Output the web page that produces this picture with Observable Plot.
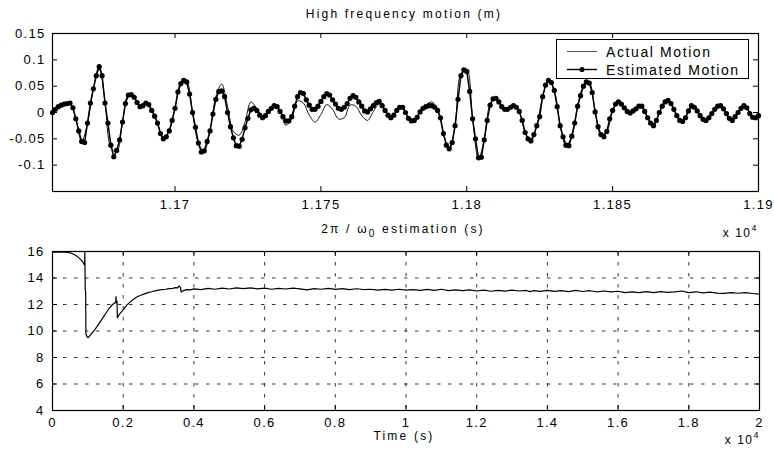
<!DOCTYPE html>
<html><head><meta charset="utf-8">
<script src="https://cdn.jsdelivr.net/npm/d3@7"></script>
<script src="https://cdn.jsdelivr.net/npm/@observablehq/plot@0.6"></script>
<style>
body{margin:0;background:#fff;}
#wrap{position:relative;width:774px;height:456px;font-family:"Liberation Sans",Arial,Helvetica,sans-serif;color:#000;overflow:hidden;}
#wrap svg{position:absolute;left:0;}
.lbl{position:absolute;white-space:nowrap;line-height:14px;}
.sup{position:relative;top:-6px;font-size:9px;}
.sub{position:relative;top:4px;font-size:10px;}
</style></head>
<body><div id="wrap"></div>
<script>
// ---------- top panel: high frequency motion (m) ----------
const motionStart = 11658;   // time of first sample (s)
const estimatedStep = 1;     // s between estimated samples
const actualStep = 2;        // s between actual samples
const estimatedMotion = [
 0.000, 0.006, 0.011, 0.014, 0.016, 0.017, 0.018, 0.009,-0.012,-0.035,
-0.055,-0.057,-0.020, 0.018, 0.045, 0.070, 0.087, 0.070, 0.018,-0.020,
-0.062,-0.084,-0.072,-0.052,-0.018, 0.017, 0.033, 0.034, 0.029, 0.019,
 0.011, 0.013, 0.018, 0.015, 0.004,-0.007,-0.020,-0.040,-0.050,-0.046,
-0.035,-0.015, 0.008, 0.039, 0.055, 0.061, 0.058, 0.035, 0.000,-0.028,
-0.058,-0.075,-0.073,-0.055,-0.035,-0.003, 0.025, 0.040, 0.041, 0.030,
 0.000,-0.027,-0.048,-0.063,-0.064,-0.051,-0.029,-0.011, 0.005, 0.008,
 0.004,-0.005,-0.010,-0.006, 0.002, 0.008, 0.013, 0.011, 0.002,-0.008,
-0.016,-0.016,-0.008, 0.012, 0.030, 0.038, 0.036, 0.024, 0.014, 0.006,
 0.006, 0.012, 0.021, 0.030, 0.036, 0.033, 0.024, 0.016, 0.008, 0.006,
 0.010, 0.017, 0.027, 0.032, 0.029, 0.020, 0.012, 0.003, 0.001, 0.007,
 0.013, 0.019, 0.021, 0.013, 0.004,-0.005,-0.010,-0.005, 0.004, 0.010,
 0.010, 0.000,-0.011,-0.016,-0.015,-0.009, 0.001, 0.008, 0.011, 0.013,
 0.013, 0.010, 0.004,-0.010,-0.040,-0.062,-0.069,-0.057,-0.025, 0.025,
 0.070, 0.081, 0.078, 0.040,-0.012,-0.050,-0.086,-0.085,-0.052,-0.015,
 0.014, 0.026, 0.027, 0.020, 0.011, 0.006, 0.006, 0.010, 0.013, 0.010,
 0.002,-0.015,-0.038,-0.050,-0.054,-0.042,-0.025,-0.008, 0.030, 0.052,
 0.061, 0.057, 0.042, 0.011,-0.025,-0.046,-0.062,-0.063,-0.045,-0.020,
 0.012, 0.032, 0.050, 0.058, 0.056, 0.038, 0.001,-0.027,-0.042,-0.046,
-0.036,-0.012, 0.004, 0.016, 0.020, 0.016, 0.009, 0.002,-0.001, 0.003,
 0.007, 0.012, 0.012, 0.002,-0.010,-0.020,-0.025,-0.015, 0.000, 0.012,
 0.020, 0.023, 0.017, 0.006,-0.006,-0.015,-0.017,-0.010, 0.003, 0.013,
 0.010, 0.003,-0.006,-0.013,-0.015,-0.010,-0.002, 0.006, 0.012, 0.013,
 0.007,-0.002,-0.011,-0.015,-0.008, 0.000, 0.008, 0.013, 0.009,-0.002,
-0.009,-0.010,-0.006
];
const actualMotion = [
 0.000, 0.011, 0.016, 0.018,-0.012,-0.055,-0.020, 0.045, 0.088, 0.020,
-0.066,-0.075,-0.018, 0.034, 0.029, 0.012, 0.019, 0.004,-0.020,-0.050,
-0.035, 0.008, 0.056, 0.058, 0.000,-0.058,-0.073,-0.033, 0.030, 0.054,
 0.012,-0.036,-0.043,-0.018, 0.020, 0.008,-0.006, 0.004, 0.012, 0.002,
-0.024,-0.012, 0.022, 0.018,-0.005,-0.018,-0.004, 0.015, 0.006,-0.012,
-0.010, 0.014, 0.012,-0.006,-0.015, 0.002, 0.016, 0.004,-0.010, 0.004,
 0.010,-0.011,-0.015, 0.001, 0.014, 0.020, 0.006,-0.040,-0.070,-0.025,
 0.074, 0.082,-0.012,-0.088,-0.050, 0.016, 0.028, 0.012, 0.008, 0.015,
 0.002,-0.038,-0.054,-0.025, 0.030, 0.061, 0.042,-0.025,-0.062,-0.045,
 0.012, 0.050, 0.056, 0.001,-0.042,-0.036, 0.004, 0.020, 0.009,-0.001,
 0.007, 0.012,-0.010,-0.025, 0.000, 0.020, 0.017,-0.006,-0.017, 0.003,
 0.010,-0.006,-0.015,-0.002, 0.012, 0.007,-0.011,-0.008, 0.008, 0.009,
-0.009,-0.006
];
const topXDomain = [11658, 11900];
const topXTicks = [11700, 11750, 11800, 11850, 11900];
const topXLabels = ["1.17", "1.175", "1.18", "1.185", "1.19"];
const topYDomain = [-0.15, 0.15];
const topYTicks = [0.15, 0.1, 0.05, 0, -0.05, -0.1];
const topYLabels = ["0.15", "0.1", "0.05", "0", "-0.05", "-0.1"];
const legendLabels = ["Actual Motion", "Estimated Motion"];

// ---------- bottom panel: 2π/ω0 estimation (s) ----------
const periodTime = [
 0,300,450,550,650,750,820,870,910,915,925,938,945,985,1005,1050,1100,1200,1300,1400,
 1500,1600,1700,1760,1790,1795,1805,1825,1835,1860,1900,2000,2100,2200,2300,2400,2500,2600,2700,2800,
 2900,3000,3100,3200,3300,3400,3480,3540,3580,3620,3640,3700,3800,3900,
 4000,4200,4400,4600,4800,5000,5200,5400,5600,5800,6000,6200,6400,6600,6800,7000,7200,7400,7600,7800,
 8000,8200,8400,8600,8800,9000,9200,9400,9600,9800,10000,10200,10400,10600,10800,11000,11200,11400,11600,11800,
 12000,12200,12400,12600,12800,13000,13200,13400,13500,13600,13800,14000,14200,14400,14600,14800,15000,15200,15400,15600,
 15800,16000,16200,16400,16600,16800,17000,17200,17400,17600,17800,18000,18200,18400,18600,18800,19000,19200,19400,19600,
 19800,20000
];
const periodValue = [
 15.95,15.95,15.93,15.85,15.72,15.52,15.33,15.15,14.95,16.0,13.1,13.0,9.75,9.55,9.5,9.62,9.78,10.1,10.5,10.9,
 11.3,11.7,12.0,12.12,12.2,12.6,12.1,12.25,11.0,11.1,11.3,11.6,11.95,12.2,12.42,12.58,12.7,12.8,12.9,12.96,
 13.03,13.08,13.13,13.15,13.2,13.22,13.27,13.25,13.4,13.28,12.95,13.05,13.12,13.1,
 13.18,13.12,13.22,13.15,13.24,13.17,13.25,13.2,13.26,13.18,13.23,13.15,13.22,13.17,13.24,13.18,13.1,13.2,13.15,13.22,
 13.14,13.2,13.12,13.19,13.13,13.15,13.08,13.14,13.09,13.15,13.08,13.12,13.06,13.14,13.07,13.15,13.05,13.1,13.04,13.1,
 13.02,13.08,13.0,13.07,13.01,13.08,13.02,13.06,12.97,13.04,12.99,13.07,12.99,13.05,12.97,13.06,12.98,13.04,12.96,13.02,
 12.96,13.0,12.9,12.95,12.9,12.97,12.9,12.97,12.91,12.95,13.02,12.9,12.96,12.88,12.93,12.86,12.84,12.9,12.85,12.89,
 12.83,12.78
];
const botXDomain = [0, 20000];
const botXTicks = [0, 2000, 4000, 6000, 8000, 10000, 12000, 14000, 16000, 18000, 20000];
const botXLabels = ["0", "0.2", "0.4", "0.6", "0.8", "1", "1.2", "1.4", "1.6", "1.8", "2"];
const botYDomain = [4, 16];
const botYTicks = [4, 6, 8, 10, 12, 14, 16];
const botYLabels = ["4", "6", "8", "10", "12", "14", "16"];

// ---------- build ----------
const wrap = document.getElementById("wrap");
const W = 774;
const font = {fontFamily: '"Liberation Sans", Arial, sans-serif', fontSize: "13px", letterSpacing: "1.3px", color: "black", background: "transparent", overflow: "visible"};

const estData = estimatedMotion.map((v, i) => ({t: motionStart + i * estimatedStep, v}));
const actData = actualMotion.map((v, i) => ({t: motionStart + i * actualStep, v}));

const tH = 215, tMT = 33, tMB = 24, tML = 52, tMR = 16;
const tIW = W - tML - tMR, tIH = tH - tMT - tMB;
const topPlot = Plot.plot({
  width: W, height: tH, marginTop: tMT, marginBottom: tMB, marginLeft: tML, marginRight: tMR,
  style: font,
  x: {domain: topXDomain, ticks: topXTicks, tickFormat: d => topXLabels[topXTicks.indexOf(d)], tickSize: 0, tickPadding: 8, label: null},
  y: {domain: topYDomain, ticks: topYTicks, tickFormat: d => topYLabels[topYTicks.indexOf(d)], tickSize: 0, tickPadding: 7, label: null},
  marks: [
    Plot.line(actData, {x: "t", y: "v", stroke: "black", strokeWidth: 0.9, curve: "catmull-rom"}),
    Plot.line(estData, {x: "t", y: "v", stroke: "black", strokeWidth: 1.5}),
    Plot.dot(estData, {x: "t", y: "v", r: 2.6, fill: "black", stroke: "none"}),
    Plot.ruleX(topXTicks, {stroke: "black", insetTop: tIH - 5}),
    Plot.ruleX(topXTicks, {stroke: "black", insetBottom: tIH - 5}),
    Plot.ruleY(topYTicks, {stroke: "black", insetRight: tIW - 5}),
    Plot.ruleY(topYTicks, {stroke: "black", insetLeft: tIW - 5}),
    Plot.frame({stroke: "black", strokeWidth: 1.2})
  ]
});
topPlot.style.top = "0px";
wrap.appendChild(topPlot);

const bTop = 215, bH = 241, bMT = 36, bMB = 46, bML = 52, bMR = 15;
const bIW = W - bML - bMR, bIH = bH - bMT - bMB;
const periodData = periodTime.map((t, i) => ({t, v: periodValue[i]}));
const innerX = botXTicks.slice(1, -1), innerY = botYTicks.slice(1, -1);
const botPlot = Plot.plot({
  width: W, height: bH, marginTop: bMT, marginBottom: bMB, marginLeft: bML, marginRight: bMR,
  style: font,
  x: {domain: botXDomain, ticks: botXTicks, tickFormat: d => botXLabels[botXTicks.indexOf(d)], tickSize: 0, tickPadding: 7, label: null},
  y: {domain: botYDomain, ticks: botYTicks, tickFormat: d => botYLabels[botYTicks.indexOf(d)], tickSize: 0, tickPadding: 8, label: null},
  marks: [
    Plot.ruleX(innerX, {stroke: "black", strokeWidth: 0.8, strokeDasharray: "3.5,7.5"}),
    Plot.ruleY(innerY, {stroke: "black", strokeWidth: 0.8, strokeDasharray: "3.5,7.5"}),
    Plot.ruleX(botXTicks, {stroke: "black", insetTop: bIH - 5}),
    Plot.ruleX(botXTicks, {stroke: "black", insetBottom: bIH - 5}),
    Plot.ruleY(botYTicks, {stroke: "black", insetRight: bIW - 5}),
    Plot.ruleY(botYTicks, {stroke: "black", insetLeft: bIW - 5}),
    Plot.line(periodData, {x: "t", y: "v", stroke: "black", strokeWidth: 1.2}),
    Plot.frame({stroke: "black", strokeWidth: 1.2})
  ]
});
botPlot.style.top = bTop + "px";
wrap.appendChild(botPlot);

// ---------- texts ----------
function addLabel(html, css) {
  const d = document.createElement("div");
  d.className = "lbl";
  d.innerHTML = html;
  Object.assign(d.style, css);
  wrap.appendChild(d);
  return d;
}
addLabel("High frequency motion (m)", {left: "0px", width: "808px", textAlign: "center", top: "7px", fontSize: "12px", letterSpacing: "2.2px"});
addLabel('2&pi; / &omega;<span class="sub">0</span> estimation (s)', {left: "0px", width: "806px", textAlign: "center", top: "222px", fontSize: "12px", letterSpacing: "2.2px"});
addLabel("Time (s)", {left: "0px", width: "808px", textAlign: "center", top: "429px", fontSize: "12px", letterSpacing: "2.2px"});
addLabel('x 10<span class="sup">4</span>', {right: "16px", top: "226px", fontSize: "12px", letterSpacing: "1.5px"});
addLabel('x 10<span class="sup">4</span>', {right: "14px", top: "433px", fontSize: "12px", letterSpacing: "1.5px"});

// legend
const leg = document.createElement("div");
Object.assign(leg.style, {position: "absolute", left: "556px", top: "39px", width: "191px", height: "38px", background: "#fff", border: "1.2px solid #000"});
leg.innerHTML =
  '<svg width="40" height="38" style="position:absolute;left:0;top:0">' +
  '<line x1="10" x2="40" y1="11.5" y2="11.5" stroke="#555" stroke-width="1"/>' +
  '<line x1="10" x2="40" y1="29.5" y2="29.5" stroke="#000" stroke-width="1.4"/>' +
  '<circle cx="25" cy="29.5" r="2.6" fill="#000"/></svg>';
legendLabels.forEach((s, i) => {
  const t = document.createElement("div");
  t.textContent = s;
  Object.assign(t.style, {position: "absolute", left: "49px", top: (4 + i * 18) + "px", fontSize: "14px", letterSpacing: "1.6px", lineHeight: "16px", whiteSpace: "nowrap"});
  leg.appendChild(t);
});
wrap.appendChild(leg);
</script>
</body></html>
